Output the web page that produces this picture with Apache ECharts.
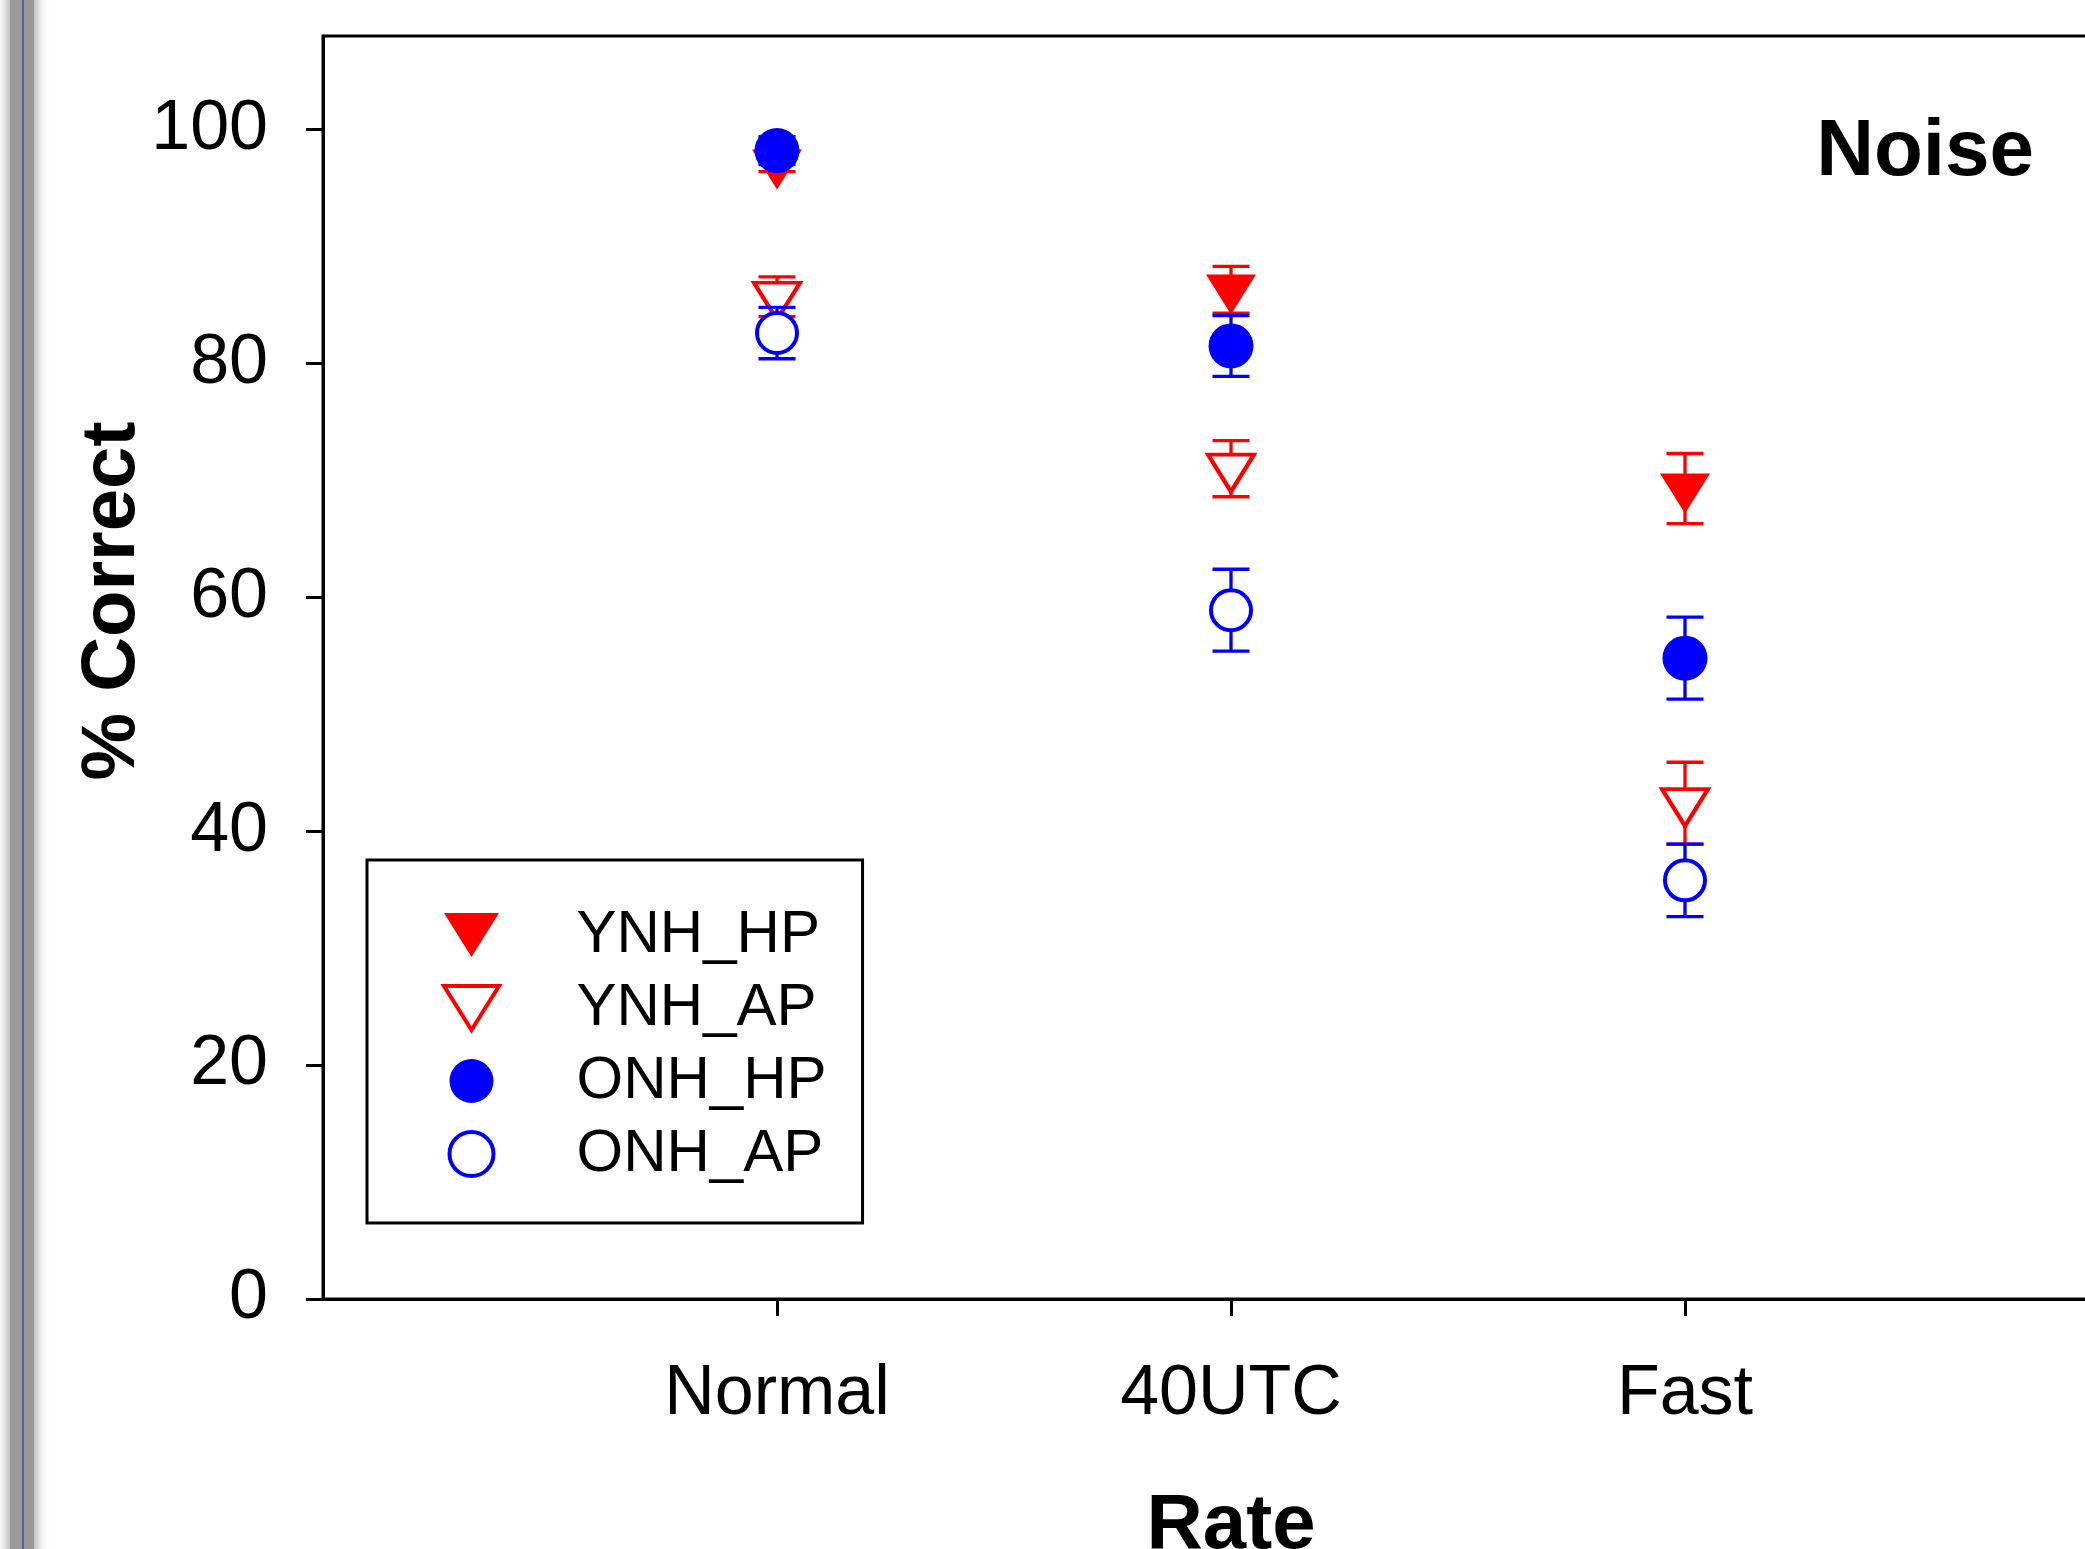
<!DOCTYPE html>
<html>
<head>
<meta charset="utf-8">
<script src="https://cdn.jsdelivr.net/npm/echarts@6/dist/echarts.min.js"></script>
<style>
  html, body { margin: 0; padding: 0; background: #fff; }
  #chart { width: 2085px; height: 1549px; }
</style>
</head>
<body>
<div id="chart"></div>
<script>
const categories = ['Normal', '40UTC', 'Fast']
const yTicks = [0, 20, 40, 60, 80, 100]

// means and error (half-length) per rate
const ynhHP = [97.0, 86.3, 69.3]
const ynhHPErr = [0.6, 2.0, 3.0]
const ynhAP = [85.7, 71.0, 42.4]
const ynhAPErr = [1.7, 2.4, 3.5]
const onhHP = [98.2, 81.5, 54.8]
const onhHPErr = [1.2, 2.6, 3.5]
const onhAP = [82.6, 58.9, 35.8]
const onhAPErr = [2.2, 3.5, 3.1]

const RED = '#ff0000'
const BLUE = '#0000ff'
const FONT = '"Liberation Sans", Arial, sans-serif'
const downTri = 'path://M0,0L100,0L50,80Z'

const chart = echarts.init(document.getElementById('chart'))

const pts = vals => vals.map((v, i) => [i + 1, v])
const errPts = (vals, errs) => vals.map((v, i) => [i + 1, v - errs[i], v + errs[i]])

function errSeries(name, vals, errs, color, z) {
  return {
    type: 'custom',
    name: name + ' err',
    z: z,
    silent: true,
    data: errPts(vals, errs),
    encode: { x: 0, y: [1, 2] },
    renderItem(params, api) {
      const lo = api.coord([api.value(0), api.value(1)])
      const hi = api.coord([api.value(0), api.value(2)])
      const w = 18.5
      const style = { stroke: color, lineWidth: 3.3 }
      return {
        type: 'group',
        children: [
          { type: 'line', shape: { x1: hi[0], y1: hi[1], x2: lo[0], y2: lo[1] }, style },
          { type: 'line', shape: { x1: hi[0] - w, y1: hi[1], x2: hi[0] + w, y2: hi[1] }, style },
          { type: 'line', shape: { x1: lo[0] - w, y1: lo[1], x2: lo[0] + w, y2: lo[1] }, style }
        ]
      }
    }
  }
}

function pointSeries(name, vals, symbol, size, itemStyle, z, offset) {
  return {
    type: 'scatter',
    name: name,
    z: z,
    silent: true,
    data: pts(vals),
    symbol: symbol,
    symbolSize: size,
    symbolOffset: offset || [0, 0],
    itemStyle: itemStyle
  }
}

const option = {
  backgroundColor: '#fff',
  animation: false,
  title: {
    text: 'Noise',
    right: 51,
    top: 113,
    padding: 0,
    textStyle: { fontFamily: FONT, fontSize: 80, fontWeight: 'bold', color: '#000', lineHeight: 80 }
  },
  grid: {
    left: 323,
    top: 36,
    bottom: 250,
    right: -54,
    outerBoundsMode: 'none',
    show: true,
    borderColor: '#000',
    borderWidth: 3,
    backgroundColor: 'transparent'
  },
  legend: {
    orient: 'vertical',
    left: 367,
    top: 860,
    padding: [45, 36, 39, 75],
    borderColor: '#000',
    borderWidth: 3,
    backgroundColor: '#fff',
    itemWidth: 200,
    itemHeight: 44,
    itemGap: 13,
    selectedMode: false,
    textStyle: { fontFamily: FONT, fontSize: 60, lineHeight: 60, color: '#000' },
    data: [
      { name: 'YNH_HP', icon: downTri, itemStyle: { color: RED, borderWidth: 0 } },
      { name: 'YNH_AP', icon: downTri, itemStyle: { color: '#fff', borderColor: RED, borderWidth: 4 } },
      { name: 'ONH_HP', icon: 'circle', itemStyle: { color: BLUE, borderWidth: 0 } },
      { name: 'ONH_AP', icon: 'circle', itemStyle: { color: '#fff', borderColor: BLUE, borderWidth: 4 } }
    ]
  },
  xAxis: {
    type: 'value',
    min: 0,
    max: 4,
    interval: 1,
    axisLine: { show: true, lineStyle: { color: '#000', width: 3 } },
    axisTick: { show: true, inside: false, length: 17, lineStyle: { color: '#000', width: 3 }, customValues: [1, 2, 3] },
    axisLabel: {
      customValues: [1, 2, 3],
      formatter: v => categories[Math.round(v) - 1] || '',
      fontFamily: FONT, fontSize: 70, color: '#000', margin: 61
    },
    splitLine: { show: false },
    name: 'Rate',
    nameLocation: 'middle',
    nameGap: 188,
    nameTextStyle: { fontFamily: FONT, fontSize: 78, fontWeight: 'bold', color: '#000' }
  },
  yAxis: {
    type: 'value',
    min: 0,
    max: 108,
    interval: 20,
    axisLine: { show: true, lineStyle: { color: '#000', width: 3 } },
    axisTick: { show: true, inside: false, length: 17, lineStyle: { color: '#000', width: 3 }, customValues: yTicks },
    axisLabel: { customValues: yTicks, fontFamily: FONT, fontSize: 70, color: '#000', margin: 55 },
    splitLine: { show: false }
  },
  graphic: [
    {
      type: 'rect', left: 10, top: -20, silent: true, z: 100,
      shape: { width: 24, height: 1600 },
      style: { fill: '#999999', shadowBlur: 14, shadowColor: 'rgba(0,0,0,0.5)' }
    },
    {
      type: 'line', silent: true, z: 101,
      shape: { x1: 23, y1: 0, x2: 23, y2: 1549 },
      style: { stroke: '#4a4aa8', lineWidth: 1.5 }
    },
    {
      type: 'text', x: 113, y: 601, rotation: Math.PI / 2, silent: true,
      style: {
        text: '% Correct',
        font: 'bold 76px "Liberation Sans", Arial, sans-serif',
        fill: '#000',
        textAlign: 'center', align: 'center',
        textVerticalAlign: 'middle', verticalAlign: 'middle'
      }
    }
  ],
  series: [
    errSeries('YNH_HP', ynhHP, ynhHPErr, RED, 10),
    pointSeries('YNH_HP', ynhHP, downTri, [50, 40], { color: RED, opacity: 1 }, 11, [0, '12%']),
    errSeries('YNH_AP', ynhAP, ynhAPErr, RED, 12),
    pointSeries('YNH_AP', ynhAP, downTri, [46, 37], { color: '#fff', borderColor: RED, borderWidth: 4, opacity: 1 }, 13, [0, '12%']),
    errSeries('ONH_HP', onhHP, onhHPErr, BLUE, 14),
    pointSeries('ONH_HP', onhHP, 'circle', 45, { color: BLUE, opacity: 1 }, 15),
    errSeries('ONH_AP', onhAP, onhAPErr, BLUE, 16),
    pointSeries('ONH_AP', onhAP, 'circle', 40, { color: '#fff', borderColor: BLUE, borderWidth: 4, opacity: 1 }, 17)
  ]
}

chart.setOption(option)
</script>
</body>
</html>
